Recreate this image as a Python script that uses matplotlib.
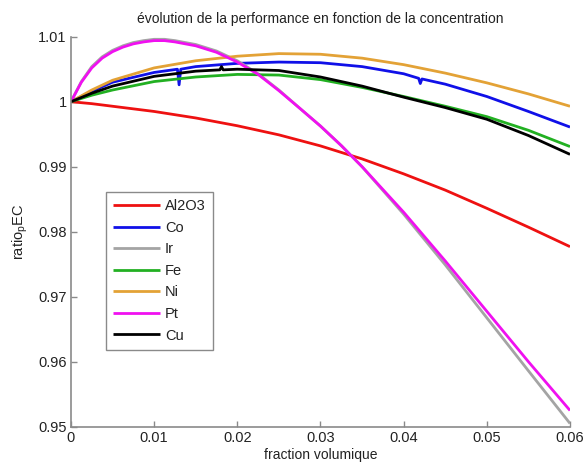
import matplotlib
matplotlib.use("Agg")
import matplotlib.pyplot as plt

plt.rcParams['font.family'] = ['Liberation Sans', 'DejaVu Sans']

# ---- data ----
x_grid = [0, 0.0025, 0.005, 0.01, 0.015, 0.02, 0.025, 0.03, 0.035, 0.04, 0.045, 0.05, 0.055, 0.06]

al2o3 = [1.0, 0.9997, 0.9993, 0.9985, 0.9975, 0.9963, 0.9949, 0.9932, 0.9912, 0.9889, 0.9864, 0.9836, 0.9807, 0.9777]
fe = [1.0, 1.0010, 1.0018, 1.0031, 1.0038, 1.0042, 1.0041, 1.0034, 1.0022, 1.0008, 0.9993, 0.9977, 0.9956, 0.9931]
ni = [1.0, 1.0018, 1.0033, 1.0052, 1.0063, 1.0070, 1.0074, 1.0073, 1.0067, 1.0057, 1.0044, 1.0029, 1.0012, 0.9993]

x_co = [0, 0.0025, 0.005, 0.01, 0.0128, 0.0130, 0.0132, 0.015, 0.02, 0.025, 0.03, 0.035, 0.04,
        0.0418, 0.0420, 0.0422, 0.045, 0.05, 0.055, 0.06]
co = [1.0, 1.0016, 1.0030, 1.0045, 1.0050, 1.0026, 1.0050, 1.0054, 1.0059, 1.0061, 1.0060, 1.0054, 1.0043,
      1.0036, 1.0028, 1.0035, 1.0027, 1.0008, 0.9985, 0.9961]

x_cu = [0, 0.0025, 0.005, 0.01, 0.015, 0.0179, 0.0181, 0.0183, 0.02, 0.025, 0.03, 0.035, 0.04,
        0.045, 0.05, 0.055, 0.06]
cu = [1.0, 1.0013, 1.0024, 1.0039, 1.0047, 1.0049, 1.0054, 1.0049, 1.0050, 1.0048, 1.0038, 1.0024, 1.0007,
      0.9991, 0.9973, 0.9948, 0.9919]

x_fine = [0, 0.00125, 0.0025, 0.00375, 0.005, 0.00625, 0.0075, 0.00875, 0.01, 0.01125, 0.0125, 0.015,
          0.0175, 0.02, 0.0225, 0.025, 0.0275, 0.03, 0.0325, 0.035, 0.04, 0.045, 0.05, 0.055, 0.06]
pt = [1.0, 1.0030, 1.0052, 1.0067, 1.0077, 1.0084, 1.0089, 1.0092, 1.0094, 1.0094, 1.0092, 1.0086,
      1.0076, 1.0061, 1.0042, 1.0017, 0.9990, 0.99625, 0.99325, 0.9900, 0.9830, 0.9755, 0.96775, 0.9600, 0.9525]
ir = [1.0, 1.0031, 1.0054, 1.0069, 1.0079, 1.0086, 1.0091, 1.0094, 1.0096, 1.0096, 1.0094, 1.0088,
      1.0078, 1.0063, 1.0043, 1.0018, 0.9990, 0.99625, 0.99325, 0.9900, 0.9827, 0.9749, 0.96675, 0.9586, 0.9505]

labels = ['Al2O3', 'Co', 'Ir', 'Fe', 'Ni', 'Pt', 'Cu']
colors = ['#ee1111', '#1010e8', '#a4a4a4', '#22b022', '#e3a236', '#f010f0', '#000000']

xticks = [0, 0.01, 0.02, 0.03, 0.04, 0.05, 0.06]
xticklabels = ['0', '0.01', '0.02', '0.03', '0.04', '0.05', '0.06']
yticks = [0.95, 0.96, 0.97, 0.98, 0.99, 1.0, 1.01]
yticklabels = ['0.95', '0.96', '0.97', '0.98', '0.99', '1', '1.01']

fig = plt.figure(figsize=(5.88, 4.70), dpi=100)
ax = fig.add_axes([0.1207, 0.0921, 0.8487, 0.8298])

series = [(x_grid, al2o3), (x_co, co), (x_fine, ir), (x_grid, fe), (x_grid, ni), (x_fine, pt), (x_cu, cu)]
for (xs, ys), lab, c in zip(series, labels, colors):
    ax.plot(xs, ys, color=c, lw=2.0, label=lab, solid_capstyle='butt', solid_joinstyle='round')

ax.set_xlim(0, 0.06)
ax.set_ylim(0.95, 1.01)
ax.set_xticks(xticks)
ax.set_xticklabels(xticklabels)
ax.set_yticks(yticks)
ax.set_yticklabels(yticklabels)

for s in ['top', 'right']:
    ax.spines[s].set_visible(False)
for s in ['left', 'bottom']:
    ax.spines[s].set_color('#8a8a8a')
    ax.spines[s].set_linewidth(1.2)
ax.tick_params(direction='in', length=4, width=1, color='#8a8a8a', labelsize=10.5,
               labelcolor='#222222', pad=3)

ax.set_title('évolution de la performance en fonction de la concentration', fontsize=10,
             color='#222222', pad=10)
ax.set_xlabel('fraction volumique', fontsize=10, color='#222222', labelpad=2)
ax.set_ylabel('ratio$_\\mathregular{p}$EC', fontsize=10.5, color='#222222', labelpad=6)

leg = ax.legend(loc='lower left', bbox_to_anchor=(0.070, 0.197), fontsize=10.5,
                frameon=True, fancybox=False, framealpha=1, edgecolor='#8a8a8a',
                handlelength=3.2, handletextpad=0.35, labelspacing=0.52, borderpad=0.5,
                borderaxespad=0)
leg.get_frame().set_linewidth(1.0)
for t in leg.get_texts():
    t.set_color('#222222')

fig.savefig('out.png', dpi=100)
